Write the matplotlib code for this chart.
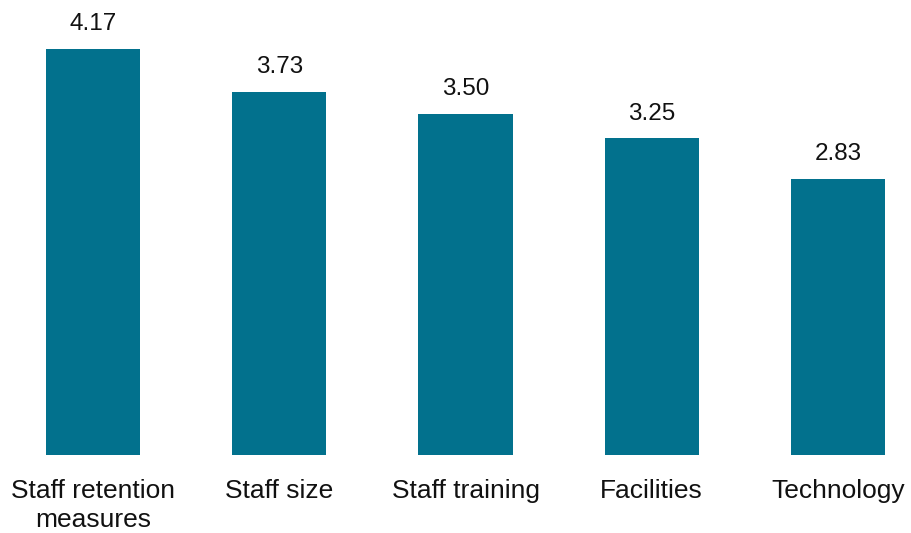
"""Bar chart of average ratings by staffing/resource factor."""

import matplotlib

matplotlib.use("Agg")

import matplotlib.pyplot as plt


CATEGORIES = [
    "Staff retention\nmeasures",
    "Staff size",
    "Staff training",
    "Facilities",
    "Technology",
]

VALUES = [4.17, 3.73, 3.50, 3.25, 2.83]

BAR_COLOR = "#02718D"

plt.rcParams["font.family"] = ["Liberation Sans", "DejaVu Sans"]

fig = plt.figure(figsize=(9.11, 5.33), dpi=100)

# axes spans the full width; baseline sits 78 px above the bottom edge
ax = fig.add_axes([0.0, 78 / 533, 1.0, 455 / 533])

xs = list(range(len(VALUES)))

bars = ax.bar(xs, VALUES, width=0.505, color=BAR_COLOR)

for bar, value in zip(bars, VALUES):

    ax.annotate(
        f"{value:.2f}",
        xy=(bar.get_x() + bar.get_width() / 2, bar.get_height()),
        xytext=(0, 10),
        textcoords="offset points",
        ha="center",
        va="bottom",
        fontsize=17.5,
        color="#111111",
    )

ax.set_xlim(-93 / 186.25, (911 - 93) / 186.25)

ax.set_ylim(0, 455 / 97.4)

ax.set_xticks(xs)

ax.set_xticklabels(CATEGORIES, fontsize=19, color="#111111", linespacing=1.3)

ax.tick_params(axis="x", length=0, pad=17)

ax.tick_params(axis="y", left=False, labelleft=False)

for spine in ax.spines.values():

    spine.set_visible(False)

fig.savefig("out.png", dpi=100)

plt.close(fig)
